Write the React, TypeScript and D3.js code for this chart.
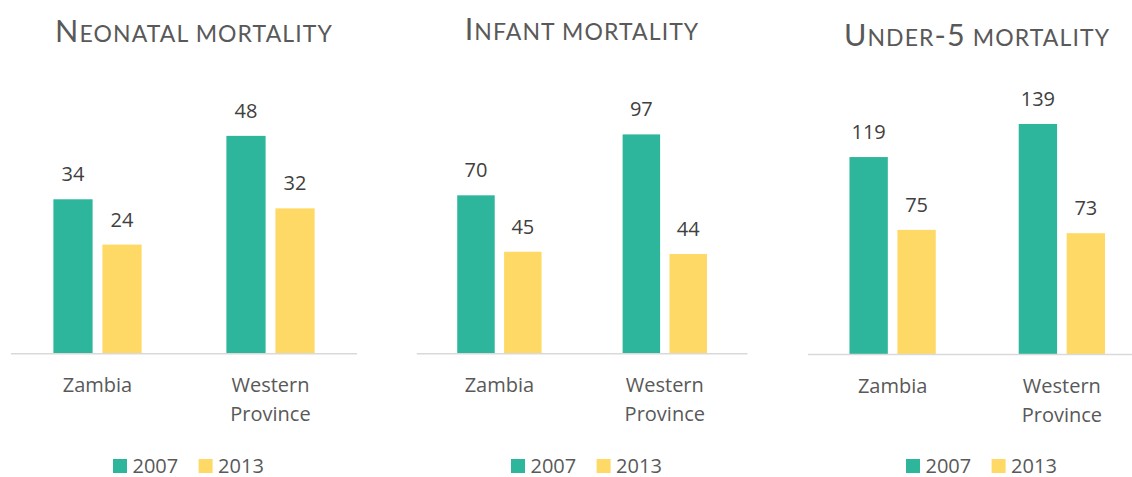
import React from "react";
import * as d3 from "d3";

const categories = ["Zambia", "Western Province"];
const years = ["2007", "2013"];
const titles = ["Neonatal mortality", "Infant mortality", "Under-5 mortality"];
const neonatal = { "2007": [34, 48], "2013": [24, 32] };
const infant = { "2007": [70, 97], "2013": [45, 44] };
const under5 = { "2007": [119, 139], "2013": [75, 73] };
const yMaxes = [60, 120, 160];

const seriesList = [neonatal, infant, under5];
const colors: Record<string, string> = { "2007": "#2EB69C", "2013": "#FFD966" };

const layouts = [
  { left: 11, right: 357, base: 353.3, top: 81.5, titleX: 194, titleY: 41.7, legendX: 113 },
  { left: 416.7, right: 747.5, base: 353.3, top: 82.5, titleX: 582, titleY: 39.5, legendX: 511 },
  { left: 808, right: 1146.5, base: 354, top: 89.2, titleX: 977, titleY: 46, legendX: 906 },
];

const FONT = "'Open Sans', 'Noto Sans', sans-serif";
const TITLE_FONT = "Lato, 'Open Sans', sans-serif";

function titleRuns(t: string) {
  const runs: { text: string; big: boolean }[] = [];
  for (const ch of t) {
    const big = !(ch >= "a" && ch <= "z") && ch !== " ";
    const isSpace = ch === " ";
    const b = isSpace ? false : big;
    const last = runs[runs.length - 1];
    if (last && last.big === b) last.text += ch.toUpperCase();
    else runs.push({ text: ch.toUpperCase(), big: b });
  }
  return runs;
}

function Panel({ idx }: { idx: number }) {
  const L = layouts[idx];
  const data = seriesList[idx] as Record<string, number[]>;
  const x0 = d3
    .scaleBand<string>()
    .domain(categories)
    .range([L.left, L.right])
    .paddingInner(0.49)
    .paddingOuter(0.245);
  const x1 = d3
    .scaleBand<string>()
    .domain(years)
    .range([0, x0.bandwidth()])
    .paddingInner(0.2)
    .paddingOuter(0);
  const y = d3.scaleLinear().domain([0, yMaxes[idx]]).range([L.base, L.top]);
  const runs = titleRuns(titles[idx]);
  return (
    <g>
      <text
        x={L.titleX}
        y={L.titleY}
        textAnchor="middle"
        fill="#595959"
        fontFamily={TITLE_FONT}
        fontWeight={400}
        letterSpacing={1.1}
      >
        {runs.map((r, i) => (
          <tspan key={i} fontSize={r.big ? 30.5 : 23}>
            {r.text}
          </tspan>
        ))}
      </text>
      {categories.map((c, ci) =>
        years.map((yr) => {
          const v = data[yr][ci];
          const bx = (x0(c) as number) + (x1(yr) as number);
          return (
            <g key={c + yr}>
              <rect
                x={bx}
                y={y(v)}
                width={x1.bandwidth()}
                height={L.base - y(v)}
                fill={colors[yr]}
              />
              <text
                x={bx + x1.bandwidth() / 2}
                y={y(v) - 18}
                textAnchor="middle"
                fontFamily={FONT}
                fontSize={20}
                fill="#404040"
              >
                {v}
              </text>
            </g>
          );
        })
      )}
      <line
        x1={L.left}
        x2={L.right}
        y1={L.base + 0.5}
        y2={L.base + 0.5}
        stroke="#D9D9D9"
        strokeWidth={1.5}
      />
      {categories.map((c) => {
        const cx = (x0(c) as number) + x0.bandwidth() / 2;
        const lines = c.split(" ");
        return (
          <text
            key={c}
            x={cx}
            y={L.base + 39}
            textAnchor="middle"
            fontFamily={FONT}
            fontSize={20}
            fill="#595959"
          >
            {lines.map((ln, i) => (
              <tspan key={i} x={cx} dy={i === 0 ? 0 : 29}>
                {ln}
              </tspan>
            ))}
          </text>
        );
      })}
      {years.map((yr, i) => {
        const lx = L.legendX + i * 85.6;
        return (
          <g key={yr}>
            <rect x={lx} y={459} width={14} height={14} fill={colors[yr]} />
            <text
              x={lx + 19.5}
              y={472.5}
              fontFamily={FONT}
              fontSize={20}
              fill="#595959"
            >
              {yr}
            </text>
          </g>
        );
      })}
    </g>
  );
}

export default function App() {
  return (
    <svg
      width={1132}
      height={477}
      style={{ position: "absolute", left: 0, top: 0, background: "#fff" }}
    >
      <rect x={0} y={0} width={1132} height={477} fill="#fff" />
      {layouts.map((_, i) => (
        <Panel key={i} idx={i} />
      ))}
    </svg>
  );
}
